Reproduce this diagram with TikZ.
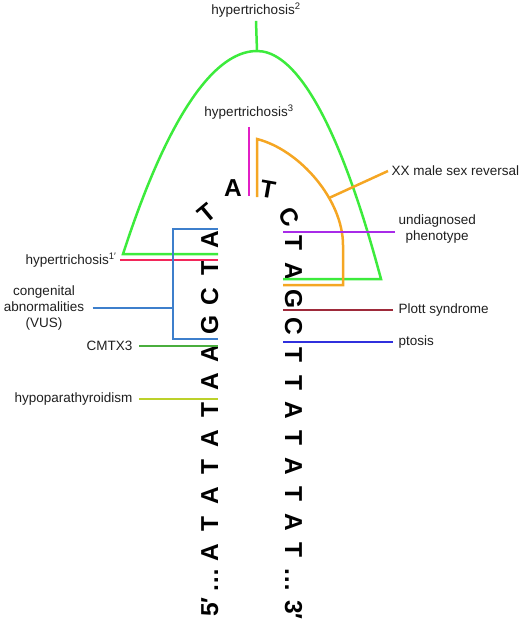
\documentclass[tikz,border=0pt]{standalone}
\usepackage{fontspec}
\setmainfont{Liberation Sans}
\usepackage{xcolor}
\usetikzlibrary{positioning}
\definecolor{hlime}{HTML}{3CEB3C}
\definecolor{hmagenta}{HTML}{E21FC6}
\definecolor{horange}{HTML}{F5A623}
\definecolor{hviolet}{HTML}{A82BE8}
\definecolor{hmaroon}{HTML}{9E2A3A}
\definecolor{hblue}{HTML}{3030DD}
\definecolor{hred}{HTML}{F2275A}
\definecolor{hsteel}{HTML}{3D7FCC}
\definecolor{hgreen}{HTML}{4AAE3E}
\definecolor{hyellow}{HTML}{BCD12A}

\begin{document}
\begin{tikzpicture}[
  x=1pt, y=-1pt,
  nuc/.style={font=\fontsize{24.5}{24}\selectfont\bfseries, inner sep=0pt},
  nucL/.style={nuc, rotate=90, anchor=base},
  nucR/.style={nuc, rotate=-90, anchor=base},
  lbl/.style={font=\fontsize{13.5}{16}\selectfont, text=black!88},
  hl/.style={line width=2.5pt, draw=#1},
]
\useasboundingbox (0,0) rectangle (526,619);

% Strand anchors
\coordinate (L) at (218,0);
\coordinate (R) at (283,0);

% Left strand (5' -> loop)
\foreach \b [count=\i] in {A,T,C,G,A,A,T,A,T,A,T,A} {
  \node[nucL] (l\i) at (218, {240+28.4*(\i-1)}) {\b};
}
\node[nucL] (ldots) at (218,580) {\ldots};
\node[nucL] (five) at (218,607) {5′};

% Right strand (loop -> 3')
\foreach \b [count=\i] in {T,A,G,C,T,T,A,T,A,T,A,T} {
  \node[nucR] (r\i) at (285, {243+27.9*(\i-1)}) {\b};
}
\node[nucR] (rdots) at (285,580) {\ldots};
\node[nucR] (three) at (285,610) {3′};

% Hairpin loop
\node[nuc, rotate=40] (turnT) at (207,213) {T};
\node[nuc] (topA) at (233,188) {A};
\node[nuc, rotate=-10] (topT) at (268,189) {T};
\node[nuc, rotate=-60] (turnC) at (289,217) {C};

% Labels
\node[lbl] (hyp2) at (256,10) {hypertrichosis\textsuperscript{2}};
\node[lbl] (hyp3) at (249,112) {hypertrichosis\textsuperscript{3}};
\node[lbl, anchor=west] (xx) at (388,171) {XX male sex reversal};
\node[lbl, anchor=west, align=center] (undiag) at (395,229) {undiagnosed\\phenotype};
\node[lbl, anchor=west] (plott) at (395,310) {Plott syndrome};
\node[lbl, anchor=west] (ptosis) at (395,342) {ptosis};
\node[lbl, anchor=east] (hyp1) at (120,260) {hypertrichosis\textsuperscript{1′}};
\node[lbl, align=center] (cong) at (44,308) {congenital\\abnormalities\\(VUS)};
\node[lbl, anchor=east] (cmtx) at (136,346) {CMTX3};
\node[lbl, anchor=east] (hypo) at (136,399) {hypoparathyroidism};

% hypertrichosis 2 (outer arch)
\coordinate (gL) at (123,254);
\coordinate (gR) at (381,279);
\coordinate (apex) at (257,51);
\draw[hl=hlime] (gL -| L) -- (gL) parabola bend (apex) (gR) -- (gR -| R);
\draw[hl=hlime] (apex) -- (hyp2.south);

% hypertrichosis 3
\draw[hl=hmagenta] ([yshift=-4pt]hyp3.south) -- ++(0,69);

% XX male sex reversal
\coordinate (xxfoot) at (329,198);
\draw[hl=horange] (257,197) -- (257,139) .. controls (300,150) and (343,200) .. (343,245)
  -- (343,285) -- (283,285);
\draw[hl=horange] (xxfoot) -- (xx.west);

% Right side marks
\draw[hl=hviolet] ([yshift=-3pt]undiag.west) -- ([yshift=-3pt]undiag.west -| R);
\draw[hl=hmaroon, shorten <=2pt] (plott.west) -- (plott.west -| R);
\draw[hl=hblue, shorten <=2pt] (ptosis.west) -- (ptosis.west -| R);

% Left side marks
\draw[hl=hred] (hyp1.east) -- (hyp1.east -| L);
\coordinate (bx) at (173,0);
\draw[hl=hsteel] (218,229) -- (173,229) -- (173,339) -- (218,339);
\draw[hl=hsteel, shorten <=5pt] (cong.east) -- (cong.east -| bx);
\draw[hl=hgreen, shorten <=3pt] (cmtx.east) -- (cmtx.east -| L);
\draw[hl=hyellow, shorten <=3pt] (hypo.east) -- (hypo.east -| L);

\end{tikzpicture}
\end{document}
